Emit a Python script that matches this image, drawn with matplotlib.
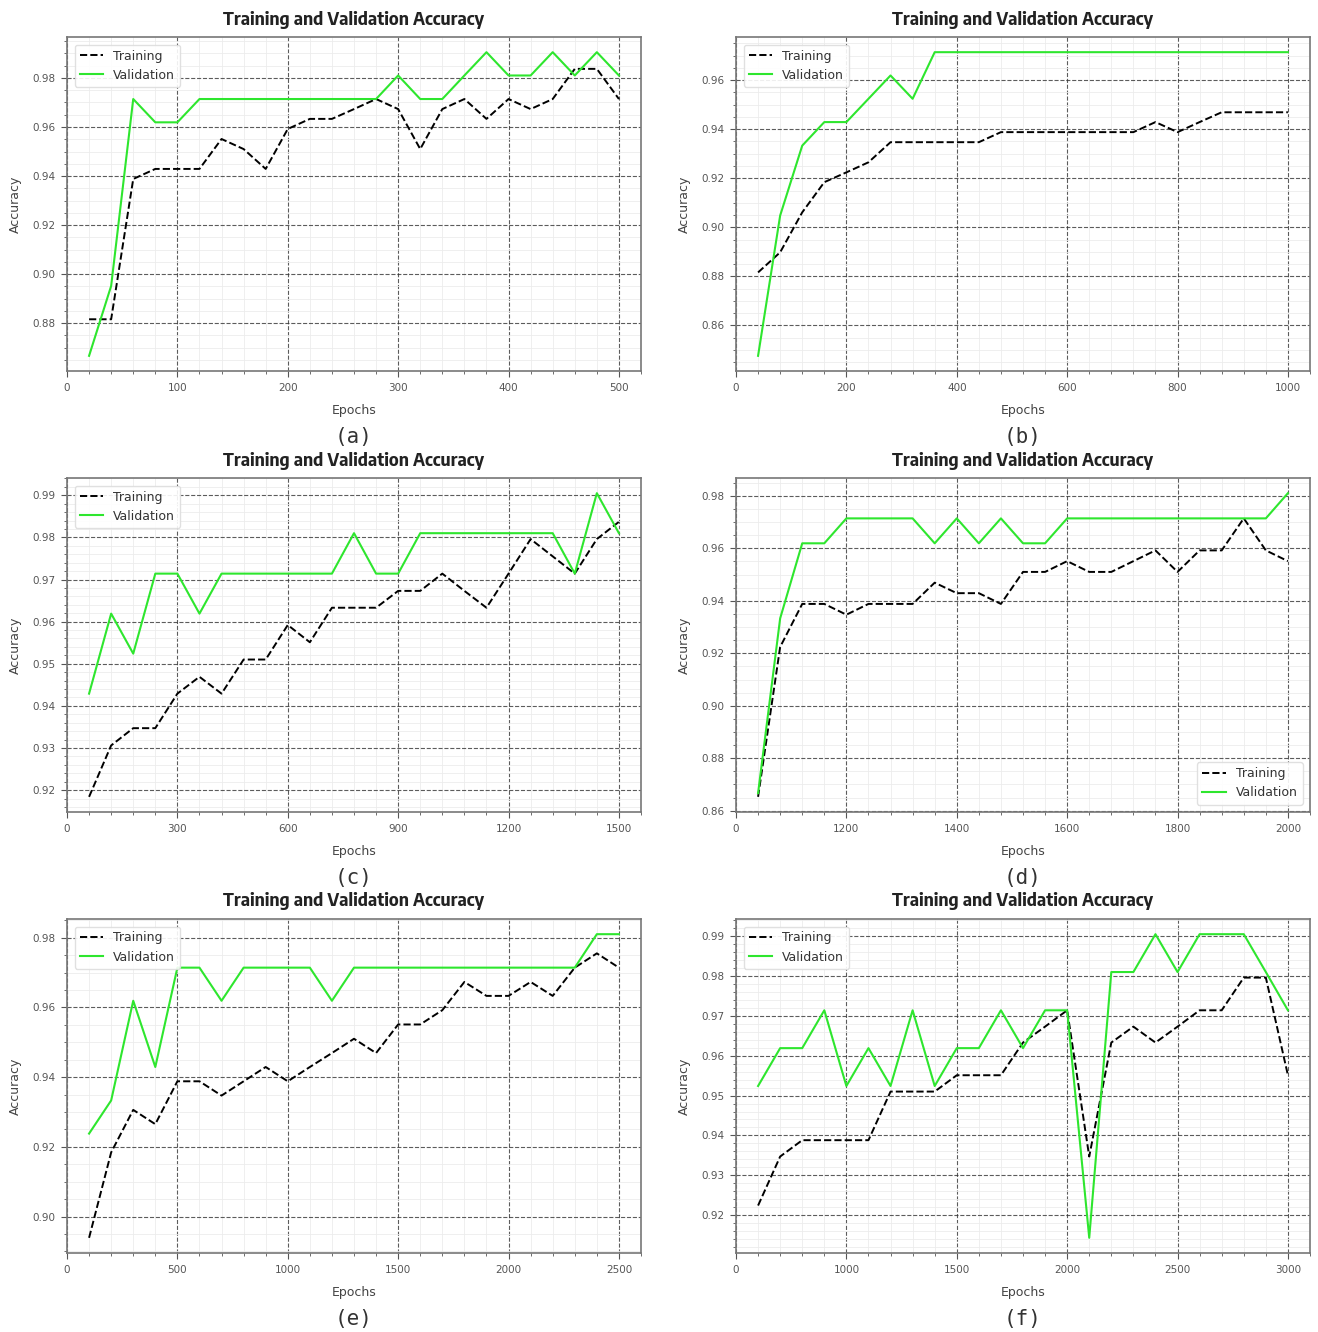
import matplotlib
matplotlib.use("Agg")
import matplotlib.pyplot as plt
import numpy as np
from matplotlib import font_manager

# ---------------- data ----------------
epochs_a = [20 * (i + 1) for i in range(25)]
train_a = [0.8816, 0.8816, 0.9388, 0.9429, 0.9429, 0.9429, 0.9551, 0.9510, 0.9429, 0.9592,
           0.9633, 0.9633, 0.9673, 0.9714, 0.9673, 0.9510, 0.9673, 0.9714, 0.9633, 0.9714,
           0.9673, 0.9714, 0.9837, 0.9837, 0.9714]
val_a = [0.8667, 0.8952, 0.9714, 0.9619, 0.9619, 0.9714, 0.9714, 0.9714, 0.9714, 0.9714,
         0.9714, 0.9714, 0.9714, 0.9714, 0.9810, 0.9714, 0.9714, 0.9810, 0.9905, 0.9810,
         0.9810, 0.9905, 0.9810, 0.9905, 0.9810]

epochs_b = [40 * (i + 1) for i in range(25)]
train_b = [0.8816, 0.8898, 0.9061, 0.9184, 0.9224, 0.9265, 0.9347, 0.9347, 0.9347, 0.9347,
           0.9347, 0.9388, 0.9388, 0.9388, 0.9388, 0.9388, 0.9388, 0.9388, 0.9429, 0.9388,
           0.9429, 0.9469, 0.9469, 0.9469, 0.9469]
val_b = [0.8476, 0.9048, 0.9333, 0.9429, 0.9429, 0.9524, 0.9619, 0.9524, 0.9714, 0.9714,
         0.9714, 0.9714, 0.9714, 0.9714, 0.9714, 0.9714, 0.9714, 0.9714, 0.9714, 0.9714,
         0.9714, 0.9714, 0.9714, 0.9714, 0.9714]

epochs_c = [60 * (i + 1) for i in range(25)]
train_c = [0.9184, 0.9306, 0.9347, 0.9347, 0.9429, 0.9469, 0.9429, 0.9510, 0.9510, 0.9592,
           0.9551, 0.9633, 0.9633, 0.9633, 0.9673, 0.9673, 0.9714, 0.9673, 0.9633, 0.9714,
           0.9796, 0.9755, 0.9714, 0.9796, 0.9837]
val_c = [0.9429, 0.9619, 0.9524, 0.9714, 0.9714, 0.9619, 0.9714, 0.9714, 0.9714, 0.9714,
         0.9714, 0.9714, 0.9810, 0.9714, 0.9714, 0.9810, 0.9810, 0.9810, 0.9810, 0.9810,
         0.9810, 0.9810, 0.9714, 0.9905, 0.9810]

epochs_d = [1000 + 40 * (i + 1) for i in range(25)]
train_d = [0.8653, 0.9224, 0.9388, 0.9388, 0.9347, 0.9388, 0.9388, 0.9388, 0.9469, 0.9429,
           0.9429, 0.9388, 0.9510, 0.9510, 0.9551, 0.9510, 0.9510, 0.9551, 0.9592, 0.9510,
           0.9592, 0.9592, 0.9714, 0.9592, 0.9551]
val_d = [0.8667, 0.9333, 0.9619, 0.9619, 0.9714, 0.9714, 0.9714, 0.9714, 0.9619, 0.9714,
         0.9619, 0.9714, 0.9619, 0.9619, 0.9714, 0.9714, 0.9714, 0.9714, 0.9714, 0.9714,
         0.9714, 0.9714, 0.9714, 0.9714, 0.9810]

epochs_e = [100 * (i + 1) for i in range(25)]
train_e = [0.8939, 0.9184, 0.9306, 0.9265, 0.9388, 0.9388, 0.9347, 0.9388, 0.9429, 0.9388,
           0.9429, 0.9469, 0.9510, 0.9469, 0.9551, 0.9551, 0.9592, 0.9673, 0.9633, 0.9633,
           0.9673, 0.9633, 0.9714, 0.9755, 0.9714]
val_e = [0.9238, 0.9333, 0.9619, 0.9429, 0.9714, 0.9714, 0.9619, 0.9714, 0.9714, 0.9714,
         0.9714, 0.9619, 0.9714, 0.9714, 0.9714, 0.9714, 0.9714, 0.9714, 0.9714, 0.9714,
         0.9714, 0.9714, 0.9714, 0.9810, 0.9810]

epochs_f = [500 + 100 * (i + 1) for i in range(25)]
train_f = [0.9224, 0.9347, 0.9388, 0.9388, 0.9388, 0.9388, 0.9510, 0.9510, 0.9510, 0.9551,
           0.9551, 0.9551, 0.9633, 0.9673, 0.9714, 0.9347, 0.9633, 0.9673, 0.9633, 0.9673,
           0.9714, 0.9714, 0.9796, 0.9796, 0.9551]
val_f = [0.9524, 0.9619, 0.9619, 0.9714, 0.9524, 0.9619, 0.9524, 0.9714, 0.9524, 0.9619,
         0.9619, 0.9714, 0.9619, 0.9714, 0.9714, 0.9143, 0.9810, 0.9810, 0.9905, 0.9810,
         0.9905, 0.9905, 0.9905, 0.9810, 0.9714]

ticks_d = [1000, 1200, 1400, 1600, 1800, 2000]
ticklabels_d = ["0", "1200", "1400", "1600", "1800", "2000"]
ticks_f = [500, 1000, 1500, 2000, 2500, 3000]
ticklabels_f = ["0", "1000", "1500", "2000", "2500", "3000"]

captions = ["(a)", "(b)", "(c)", "(d)", "(e)", "(f)"]
title_text = "Training and Validation Accuracy"

# ---------------- style ----------------
def _wnum(w):
    if isinstance(w, (int, float)):
        return w
    return font_manager.weight_dict.get(str(w).lower(), 400)

def _is_narrow(f):
    s = f.name + " " + f.fname
    return "Narrow" in s or "Condensed" in s

W, H = 1318, 1332
fig = plt.figure(figsize=(W / 100, H / 100), dpi=100)
renderer = fig.canvas.get_renderer()

def _text_width(prop):
    t = fig.text(0, 0, title_text, fontproperties=prop)
    w = t.get_window_extent(renderer).width
    t.remove()
    return w

TARGET_W = 262.0
TARGET_SIZE = 12.7
fonts = font_manager.fontManager.ttflist
cands = [f for f in fonts
         if _is_narrow(f) and 650 <= _wnum(f.weight) <= 750 and f.style == "normal"]
best = None
for f in cands:
    try:
        w = _text_width(font_manager.FontProperties(fname=f.fname, size=TARGET_SIZE))
    except Exception:
        continue
    if w <= 0:
        continue
    score = abs(w - TARGET_W)
    if best is None or score < best[2]:
        best = (f.fname, w, score)
if best is not None:
    size = TARGET_SIZE * TARGET_W / best[1]
    size = max(11.5, min(13.5, size))
    title_prop = font_manager.FontProperties(fname=best[0], size=size)
else:
    title_prop = font_manager.FontProperties(family="Liberation Sans", weight="bold", size=10.5)

GREEN = "#2ee62e"
TICK_COLOR = "#555555"

col_left = [67, 736]
ax_w = 574
ax_h = 334
row_bottom = [371, 812, 1253]  # pixel y of axes bottom

panels = [
    (epochs_a, train_a, val_a, None, None, "upper left"),
    (epochs_b, train_b, val_b, None, None, "upper left"),
    (epochs_c, train_c, val_c, None, None, "upper left"),
    (epochs_d, train_d, val_d, ticks_d, ticklabels_d, "lower right"),
    (epochs_e, train_e, val_e, None, None, "upper left"),
    (epochs_f, train_f, val_f, ticks_f, ticklabels_f, "upper left"),
]
x_left = [0, 0, 0, 1000, 0, 500]
x_steps = [20, 40, 60, 40, 100, 100]
x_major = [100, 200, 300, 200, 500, 500]

for i, (ep, tr, va, tks, tkl, loc) in enumerate(panels):
    r, c = divmod(i, 2)
    left = col_left[c] / W
    bottom = 1 - row_bottom[r] / H
    ax = fig.add_axes([left, bottom, ax_w / W, ax_h / H])
    ax.plot(ep, tr, linestyle="--", color="black", lw=1.4, label="Training", zorder=3)
    ax.plot(ep, va, linestyle="-", color=GREEN, lw=1.5, label="Validation", zorder=3)
    ax.set_xlim(x_left[i], ep[-1] + x_steps[i])
    if tks is not None:
        ax.set_xticks(tks)
        ax.set_xticklabels(tkl)
    else:
        ax.xaxis.set_major_locator(matplotlib.ticker.MultipleLocator(x_major[i]))
    ax.xaxis.set_minor_locator(matplotlib.ticker.AutoMinorLocator(5))
    ax.yaxis.set_minor_locator(matplotlib.ticker.AutoMinorLocator())
    ax.yaxis.set_major_formatter(matplotlib.ticker.FormatStrFormatter("%.2f"))
    ax.grid(which="major", linestyle="--", color="#333333", lw=0.8, alpha=0.8)
    ax.grid(which="minor", linestyle="-", color="#ececec", lw=0.6)
    ax.set_axisbelow(True)
    for s in ax.spines.values():
        s.set_color("#777777")
        s.set_linewidth(1.2)
    ax.tick_params(which="both", colors=TICK_COLOR, labelsize=7.5)
    ax.tick_params(which="major", length=4, pad=4.5)
    ax.tick_params(which="minor", length=2)
    ax.set_title(title_text, fontproperties=title_prop, color="#222222", pad=9)
    ax.set_xlabel("Epochs", fontsize=9, color="#444444", labelpad=8)
    ax.set_ylabel("Accuracy", fontsize=9, color="#444444", labelpad=7)
    leg = ax.legend(loc=loc, fontsize=9, frameon=True, handlelength=1.9,
                    borderaxespad=0.6)
    leg.get_frame().set_edgecolor("#dddddd")
    leg.get_frame().set_facecolor("white")
    leg.get_frame().set_alpha(0.9)
    for t in leg.get_texts():
        t.set_color("#333333")
    # caption under the panel
    cx = (col_left[c] + ax_w / 2) / W
    cy = 1 - (row_bottom[r] + 66) / H
    fig.text(cx, cy, captions[i], ha="center", va="center", fontsize=15,
             family="DejaVu Sans Mono", color="#333333")

fig.savefig("out.png", dpi=100)
